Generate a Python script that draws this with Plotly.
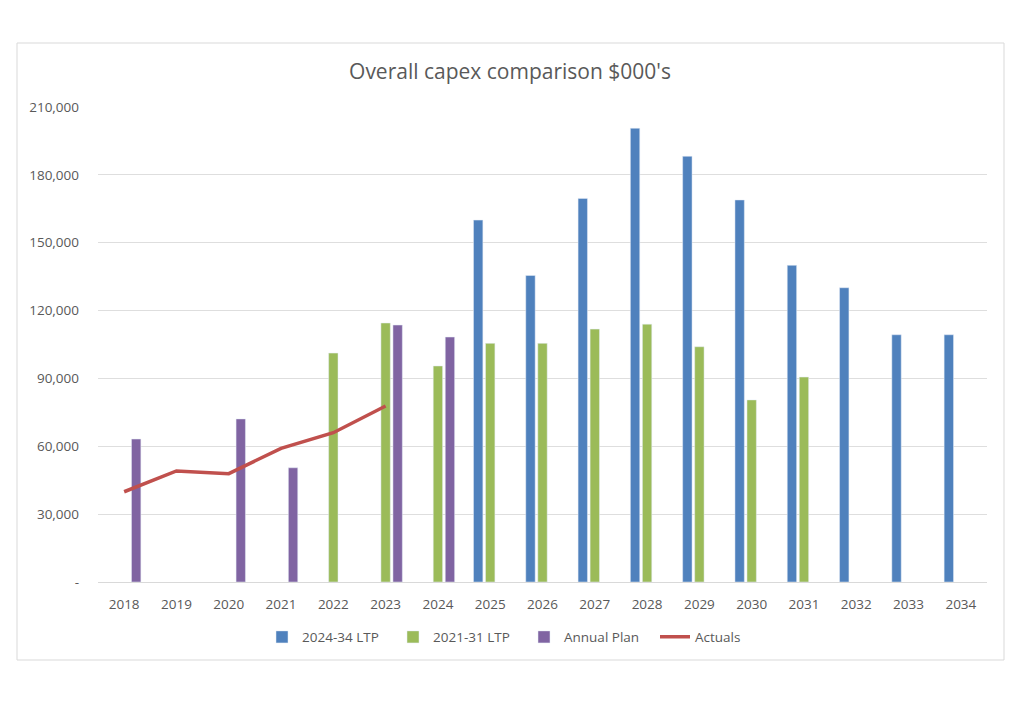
import plotly.graph_objects as go

years = [str(y) for y in range(2018, 2035)]
ltp_2024 = [None, None, None, None, None, None, None,
            160000, 135500, 169600, 200600, 188200, 168900, 140000, 130100, 109300, 109300]
ltp_2021 = [None, None, None, None, 101200, 114500, 95500,
            105500, 105500, 111800, 114000, 104000, 80500, 90600, None, None, None]
annual_plan = [63200, None, 72100, 50500, None, 113600, 108300,
               None, None, None, None, None, None, None, None, None, None]
actual_years = ["2018", "2019", "2020", "2021", "2022", "2023"]
actuals = [39900, 49100, 47900, 59100, 66000, 77800]

tick_vals = [0, 30000, 60000, 90000, 120000, 150000, 180000, 210000]
tick_text = ["-", "30,000", "60,000", "90,000", "120,000", "150,000", "180,000", "210,000"]

FONT = "Open Sans"
GREY = "#595959"

fig = go.Figure()
fig.add_trace(go.Bar(x=years, y=ltp_2024, name="2024-34 LTP", marker_color="#4f81bd"))
fig.add_trace(go.Bar(x=years, y=ltp_2021, name="2021-31 LTP", marker_color="#9bbb59"))
fig.add_trace(go.Bar(x=years, y=annual_plan, name="Annual Plan", marker_color="#8064a2"))
fig.add_trace(go.Scatter(x=actual_years, y=actuals, name="Actuals", mode="lines",
                         line=dict(color="#c0504d", width=3.5)))

fig.update_layout(
    width=1008, height=708,
    margin=dict(l=90, r=29, t=99, b=134),
    paper_bgcolor="white", plot_bgcolor="white",
    barmode="group", bargap=0.31, bargroupgap=0.22,
    font=dict(family=FONT, size=13.5, color=GREY),
    title=dict(text="Overall capex comparison $000's", x=(510 - 8) / 1008, xref="container",
               y=1 - 64 / 708, yref="container", yanchor="middle", xanchor="center",
               font=dict(family=FONT, size=21, color=GREY)),
    showlegend=True,
    legend=dict(orientation="h", x=(262 - 98) / 889, xanchor="left", y=-0.116, yanchor="middle",
                entrywidth=86, entrywidthmode="pixels",
                font=dict(family=FONT, size=13.5, color=GREY), traceorder="normal"),
    xaxis=dict(type="category", range=[-0.5, 16.5], showgrid=False,
               showline=True, linecolor="#d9d9d9", linewidth=1, ticks="",
               ticklabelstandoff=10, tickfont=dict(family=FONT, size=13.5, color=GREY)),
    yaxis=dict(range=[0, 210000], tickvals=tick_vals, ticktext=tick_text,
               showgrid=True, gridcolor="#dedede", gridwidth=1, zeroline=False,
               ticks="", ticklabelstandoff=18,
               tickfont=dict(family=FONT, size=13.5, color=GREY)),
)

fig.add_shape(type="rect", xref="paper", yref="paper",
              x0=(17 - 98) / 889, x1=(1004 - 98) / 889,
              y0=(582 - 660) / 475, y1=(582 - 43) / 475,
              line=dict(color="#d9d9d9", width=1), fillcolor="rgba(0,0,0,0)", layer="below")

fig.write_html("out.html")
